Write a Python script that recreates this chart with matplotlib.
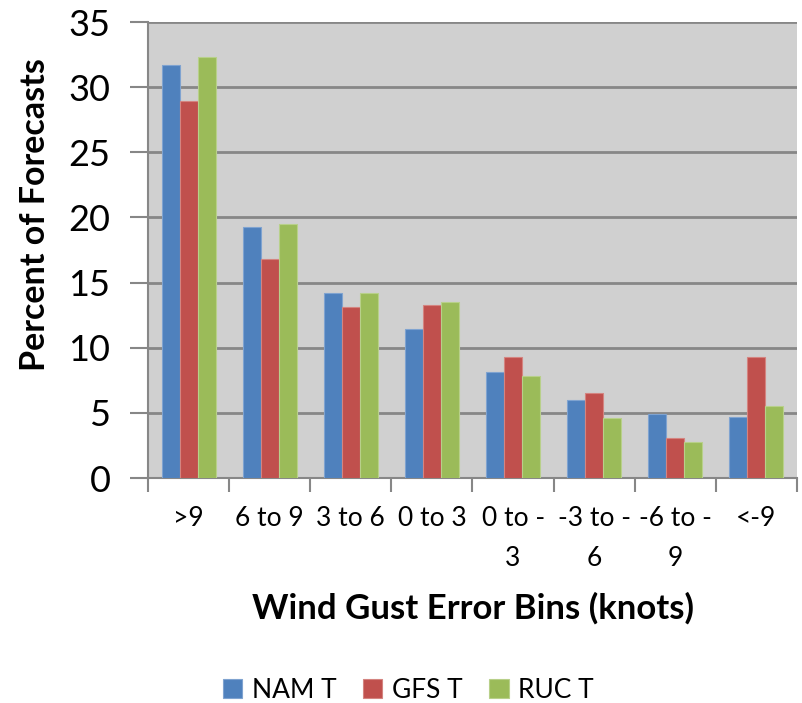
import matplotlib
matplotlib.use("Agg")
import matplotlib.pyplot as plt
import numpy as np

categories = [">9", "6 to 9", "3 to 6", "0 to 3", "0 to -\n3", "-3 to -\n6", "-6 to -\n9", "<-9"]
series_names = ["NAM T", "GFS T", "RUC T"]
nam = [31.7, 19.3, 14.2, 11.4, 8.1, 6.0, 4.9, 4.7]
gfs = [28.9, 16.8, 13.1, 13.3, 9.3, 6.5, 3.1, 9.3]
ruc = [32.3, 19.5, 14.2, 13.5, 7.8, 4.6, 2.8, 5.5]
colors = ["#4F81BD", "#C0504D", "#9BBB59"]
edges = ["#7FA3D0", "#D48480", "#B8D08A"]

plt.rcParams['font.family'] = ['Lato', 'DejaVu Sans']

fig = plt.figure(figsize=(8.02, 7.03), dpi=100)
ax = fig.add_axes([148/802, 1-478/703, (797-148)/802, (478-22)/703])
ax.set_facecolor("#D0D0D0")

x = np.arange(len(categories))
bw = 2/9
for i, (vals, c, ec, name) in enumerate(zip([nam, gfs, ruc], colors, edges, series_names)):
    ax.bar(x + (i-1)*bw, vals, width=bw, color=c, edgecolor=ec, linewidth=0.8, label=name, zorder=3)

ax.set_xlim(-0.5, len(categories)-0.5)
ax.set_ylim(0, 35)
ax.set_yticks(range(0, 36, 5))
ax.yaxis.grid(True, color="#878787", linewidth=2, zorder=1)
ax.set_axisbelow(True)

ax.set_xticks(np.arange(-0.5, len(categories), 1.0))
ax.set_xticklabels([])
ax.set_xticks(x, minor=True)
ax.set_xticklabels(categories, minor=True, fontsize=19, linespacing=1.75, va="top")
ax.tick_params(axis="x", which="major", length=10, width=1.5, color="#878787", direction="out")
ax.tick_params(axis="x", which="minor", length=0, pad=20)
ax.tick_params(axis="y", length=13, width=1.5, color="#878787", labelsize=26, pad=14, direction="out")

for s in ["top", "right"]:
    ax.spines[s].set_visible(False)
for s in ["left", "bottom"]:
    ax.spines[s].set_color("#878787")
    ax.spines[s].set_linewidth(1.5)

fig.text(35/802, 1-215/703, "Percent of Forecasts", rotation=90, fontsize=24.5,
         fontweight="bold", ha="center", va="center")
fig.text(473/802, 1-608/703, "Wind Gust Error Bins (knots)", fontsize=25,
         fontweight="bold", ha="center", va="center")

leg = fig.legend(loc="center", bbox_to_anchor=(408/802, 1-690/703), ncol=3, frameon=False,
                 fontsize=19, handlelength=0.75, handleheight=0.75, handletextpad=0.35, columnspacing=1.0)

fig.savefig("out.png", dpi=100)
